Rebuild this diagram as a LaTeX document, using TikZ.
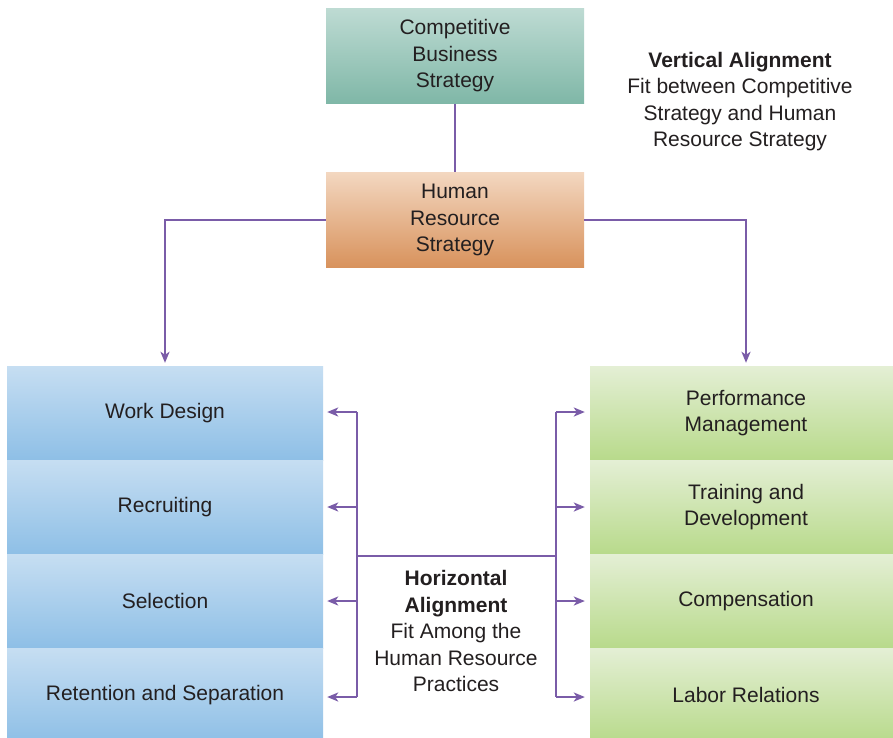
\documentclass[tikz,border=0pt]{standalone}
\usepackage{fontspec}
\setmainfont{Liberation Sans}
\usetikzlibrary{arrows.meta}
\definecolor{tealT}{HTML}{BEDBD3}
\definecolor{tealB}{HTML}{7FB7A7}
\definecolor{peachT}{HTML}{F3D7C0}
\definecolor{peachB}{HTML}{D8925C}
\definecolor{blueT}{HTML}{C6DEF2}
\definecolor{blueB}{HTML}{8EBFE6}
\definecolor{greenT}{HTML}{E4EFD5}
\definecolor{greenB}{HTML}{B8DA8B}
\definecolor{conn}{HTML}{7A5CA8}
\definecolor{txt}{HTML}{231F20}
\begin{document}
\begin{tikzpicture}[x=1pt,y=-1pt,
  lbl/.style={font=\fontsize{21}{26.5}\selectfont, text=txt, align=center},
  box/.style={lbl, inner sep=0pt, draw=none},
  stratbox/.style={box, minimum width=258pt, minimum height=95pt},
  leftbox/.style={box, top color=blueT, bottom color=blueB, minimum width=316pt, minimum height=94pt},
  rightbox/.style={box, top color=greenT, bottom color=greenB, minimum width=312pt, minimum height=94pt},
  link/.style={draw=conn, line width=2pt},
  arr/.style={link, -{Stealth[length=11pt, width=9pt, inset=3pt]}}
]
\useasboundingbox (0,0) rectangle (893,737);
\fill[white] (0,0) rectangle (893,737);

\node[stratbox, top color=tealT, bottom color=tealB] (cbs) at (455,56) {Competitive\\Business\\Strategy};
\node[stratbox, top color=peachT, bottom color=peachB] (hrs) at (455,220) {Human\\Resource\\Strategy};

\node[leftbox] (wd) at (165,413) {Work Design};
\node[leftbox] (rc) at (165,507) {Recruiting};
\node[leftbox] (sl) at (165,601) {Selection};
\node[leftbox] (rs) at (165,695) {Retention and Separation};

\node[rightbox] (pm) at (746,413) {Performance\\Management};
\node[rightbox] (td) at (746,507) {Training and\\Development};
\node[rightbox] (cp) at (746,601) {Compensation};
\node[rightbox] (lr) at (746,695) {Labor Relations};

\node[lbl] (va) at (740,101.5) {\textbf{Vertical Alignment}\\Fit between Competitive\\Strategy and Human\\Resource Strategy};
\node[lbl] (ha) at (456,631) {\textbf{Horizontal}\\\textbf{Alignment}\\Fit Among the\\Human Resource\\Practices};

% vertical alignment
\draw[link] (cbs.south) -- (hrs.north);
\draw[arr, shorten >=3pt] (hrs.west) -| (wd.north);
\draw[arr, shorten >=3pt] (hrs.east) -| (pm.north);

% horizontal alignment
\coordinate (lt) at (357,412);
\coordinate (lb) at (357,697);
\coordinate (rt) at (556,412);
\coordinate (rb) at (556,697);
\coordinate (lm) at (357,556);
\coordinate (rm) at (556,556);
\draw[link] (lt) -- (lb);
\draw[link] (rt) -- (rb);
\draw[link] (lm) -- (rm);
\draw[arr, shorten >=4pt] (lt) -- (wd.east |- lt);
\draw[arr, shorten >=4pt] (357,507) -- (rc.east);
\draw[arr, shorten >=4pt] (357,601) -- (sl.east);
\draw[arr, shorten >=4pt] (lb) -- (rs.east |- lb);
\draw[arr, shorten >=5pt] (rt) -- (pm.west |- rt);
\draw[arr, shorten >=5pt] (556,507) -- (td.west);
\draw[arr, shorten >=5pt] (556,601) -- (cp.west);
\draw[arr, shorten >=5pt] (rb) -- (lr.west |- rb);
\end{tikzpicture}
\end{document}
